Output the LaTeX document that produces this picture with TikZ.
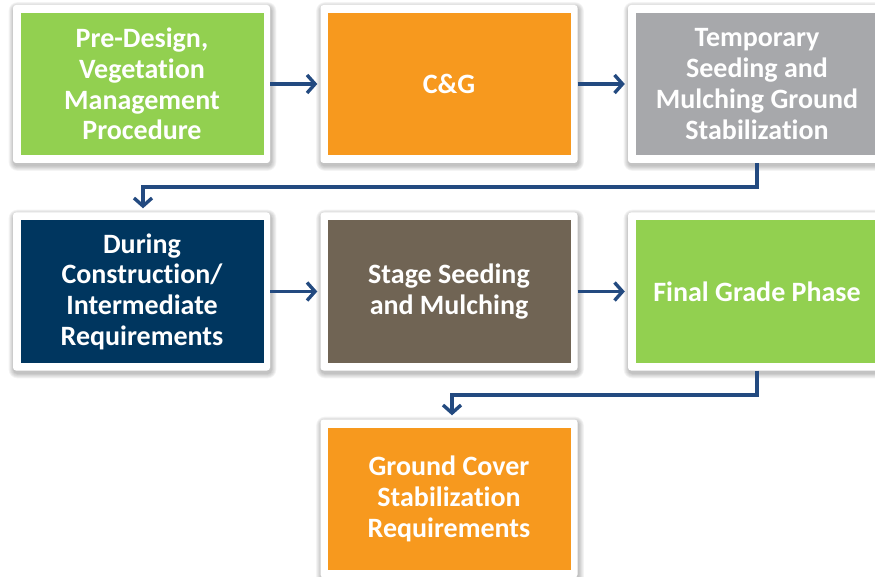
\documentclass[tikz,border=0pt]{standalone}
\usepackage{fontspec}
\setmainfont{Carlito}
\newfontfamily\boxfont{Carlito}[UprightFont=* Bold, BoldFont=* Bold, RawFeature={-liga;-clig;-calt;-dlig;-ccmp}]
\usetikzlibrary{arrows.meta}
\definecolor{cgreen}{HTML}{92D050}
\definecolor{corange}{HTML}{F7991E}
\definecolor{cgray}{HTML}{A7A8AB}
\definecolor{cnavy}{HTML}{00365F}
\definecolor{cbrown}{HTML}{706454}
\definecolor{carrow}{HTML}{234A80}
\tikzset{
  frame/.style={fill=white, rounded corners=3pt, minimum width=257pt, minimum height=158pt, inner sep=0pt},
  inbox/.style={minimum width=243pt, minimum height=142pt, inner sep=0pt, text width=238pt,
    align=flush center, text=white, font=\boxfont\fontsize{28}{30.7}\selectfont},
  conn/.style={draw=carrow, line width=3.4pt, -{Straight Barb[length=8pt,width=18pt,line width=3.4pt]}}
}
\newcommand\shadowbox[2]{%
  \foreach \i in {1,...,6} {
    \fill[black, opacity=0.045, rounded corners=3pt+\i pt]
      (#1-128.5-\i*0.9+1, #2-79-\i*0.9+2.5) rectangle (#1+128.5+\i*0.9+1, #2+79+\i*0.9+2.5);
  }%
}
\begin{document}
\begin{tikzpicture}[x=1pt,y=-1pt]
\useasboundingbox (0,0) rectangle (875,577);
\begin{scope}
\clip (0,0) rectangle (875,577);
\shadowbox{141.5}{84}
\shadowbox{449}{84}
\shadowbox{756.5}{84}
\shadowbox{141.5}{291.5}
\shadowbox{449}{291.5}
\shadowbox{756.5}{291.5}
\shadowbox{449}{498.5}
\node[frame] (a) at (141.5,84) {};
\node[inbox, fill=cgreen] (ai) at (142,84) {Pre-Design,\\Vegetation\\Management\\Procedure};
\node[frame] (b) at (449,84) {};
\node[inbox, fill=corange] (bi) at (449,84) {C\&G};
\node[frame] (c) at (756.5,84) {};
\node[inbox, fill=cgray] (ci) at (757,84) {Temporary\\Seeding and\\Mulching Ground\\Stabilization};
\node[frame] (d) at (141.5,291.5) {};
\node[inbox, fill=cnavy] (di) at (142,291.5) {During\\Construction/\\Intermediate\\Requirements};
\node[frame] (e) at (449,291.5) {};
\node[inbox, fill=cbrown] (ei) at (449,291.5) {Stage Seeding\\and Mulching};
\node[frame] (f) at (756.5,291.5) {};
\node[inbox, fill=cgreen] (fi) at (757,291.5) {Final Grade Phase};
\node[frame] (g) at (449,498.5) {};
\node[inbox, fill=corange] (gi) at (449,499) {Ground Cover\\Stabilization\\Requirements};
\end{scope}
\draw[conn] (a.east) -- ([xshift=-3pt]b.west);
\draw[conn] (b.east) -- ([xshift=-3pt]c.west);
\draw[conn] (d.east) -- ([xshift=-3pt]e.west);
\draw[conn] (e.east) -- ([xshift=-3pt]f.west);
\coordinate (k1) at (757,187);
\coordinate (k2) at (143,187);
\draw[conn, shorten >=4pt] (c.south -| k1) -- (k1) -- (k2) -- (k2 |- d.north);
\coordinate (k3) at (757,395);
\coordinate (k4) at (452,395);
\draw[conn, shorten >=4pt] (f.south -| k3) -- (k3) -- (k4) -- (k4 |- g.north);
\end{tikzpicture}
\end{document}
